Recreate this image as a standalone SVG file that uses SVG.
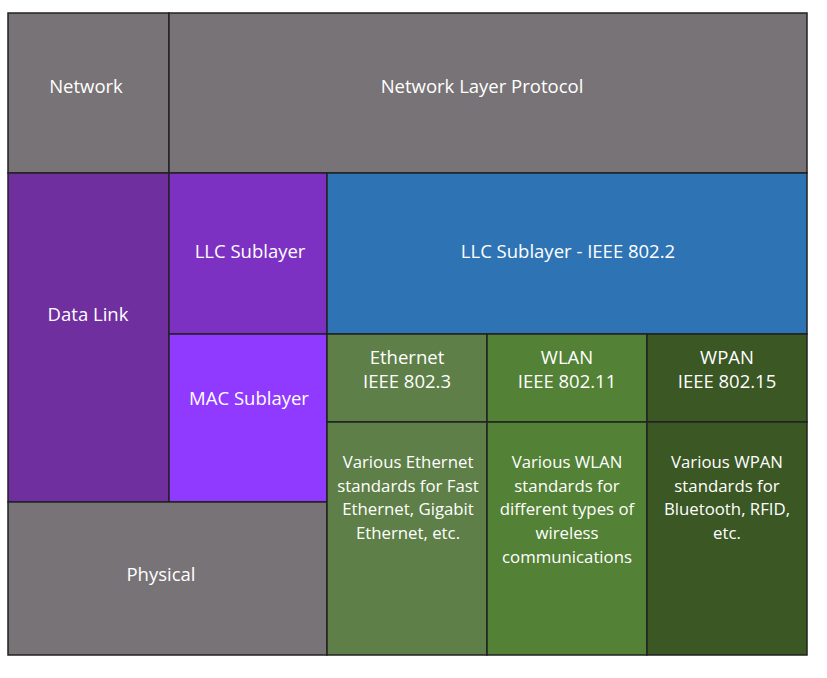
<svg xmlns="http://www.w3.org/2000/svg" width="827" height="678" viewBox="0 0 827 678">
<style>
.c{stroke:#222;stroke-width:1.5}
text{font-family:"Open Sans","Noto Sans",sans-serif;fill:#fff;text-anchor:middle}
.l{font-size:18.5px}
.s{font-size:16.8px}
</style>
<rect x="0" y="0" width="827" height="678" fill="#fff"/>
<g id="network"><rect class="c" x="8" y="13" width="161" height="160" fill="#787376"/><text class="l" x="86" y="93">Network</text></g>
<g id="nlp"><rect class="c" x="169" y="13" width="638" height="160" fill="#787376"/><text class="l" x="482" y="93">Network Layer Protocol</text></g>
<g id="datalink"><rect class="c" x="8" y="173" width="161" height="329" fill="#6f2f9f"/><text class="l" x="88" y="321">Data Link</text></g>
<g id="llc"><rect class="c" x="169" y="173" width="158" height="161" fill="#7d31c3"/><text class="l" x="250" y="258">LLC Sublayer</text></g>
<g id="mac"><rect class="c" x="169" y="334" width="158" height="168" fill="#9039ff"/><text class="l" x="249" y="405">MAC Sublayer</text></g>
<g id="llc8022"><rect class="c" x="327" y="173" width="480" height="161" fill="#2e74b5"/><text class="l" x="568" y="258">LLC Sublayer - IEEE 802.2</text></g>
<g id="physical"><rect class="c" x="8" y="502" width="319" height="153" fill="#787376"/><text class="l" x="161" y="581">Physical</text></g>
<g id="ethernet"><rect class="c" x="327" y="334" width="160" height="88" fill="#5e7f47"/><text class="l" x="407" y="364">Ethernet</text><text class="l" x="407" y="388">IEEE 802.3</text></g>
<g id="wlan"><rect class="c" x="487" y="334" width="160" height="88" fill="#538135"/><text class="l" x="567" y="364">WLAN</text><text class="l" x="567" y="388">IEEE 802.11</text></g>
<g id="wpan"><rect class="c" x="647" y="334" width="160" height="88" fill="#3a5724"/><text class="l" x="727" y="364">WPAN</text><text class="l" x="727" y="388">IEEE 802.15</text></g>
<g id="ethernet-desc"><rect class="c" x="327" y="422" width="160" height="233" fill="#5e7f47"/>
<text class="s" x="408" y="468">Various Ethernet</text><text class="s" x="408" y="492">standards for Fast</text><text class="s" x="408" y="515">Ethernet, Gigabit</text><text class="s" x="408" y="539">Ethernet, etc.</text></g>
<g id="wlan-desc"><rect class="c" x="487" y="422" width="160" height="233" fill="#538135"/>
<text class="s" x="567" y="468">Various WLAN</text><text class="s" x="567" y="492">standards for</text><text class="s" x="567" y="515">different types of</text><text class="s" x="567" y="539">wireless</text><text class="s" x="567" y="563">communications</text></g>
<g id="wpan-desc"><rect class="c" x="647" y="422" width="160" height="233" fill="#3a5724"/>
<text class="s" x="727" y="468">Various WPAN</text><text class="s" x="727" y="492">standards for</text><text class="s" x="727" y="515">Bluetooth, RFID,</text><text class="s" x="727" y="539">etc.</text></g>
<g id="connectors"></g>
</svg>
